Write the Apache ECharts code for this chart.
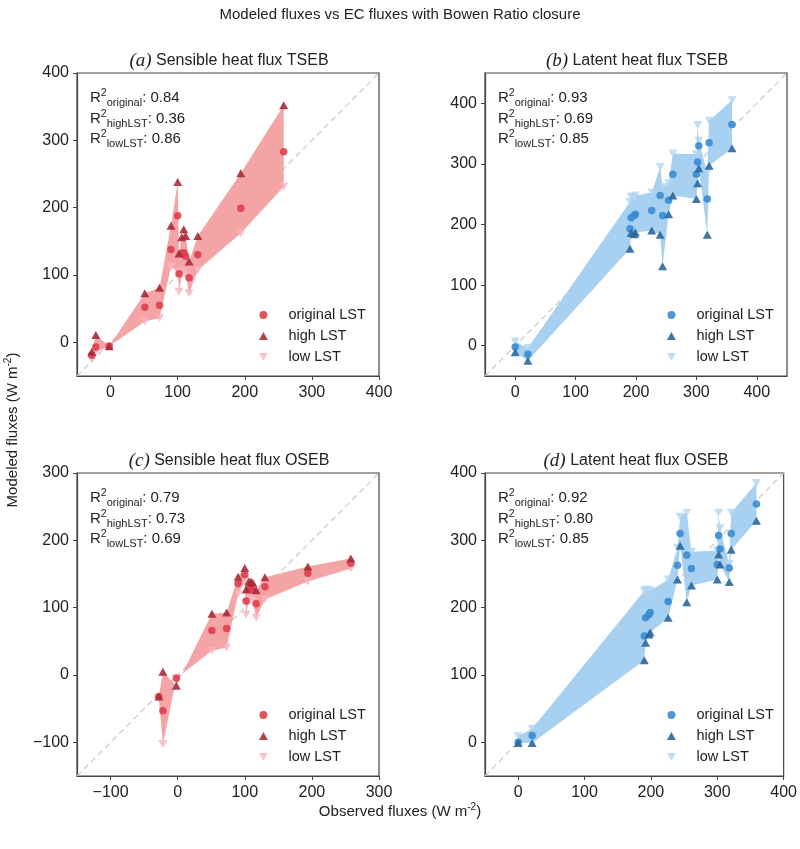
<!DOCTYPE html>
<html>
<head>
<meta charset="utf-8">
<script src="https://cdn.jsdelivr.net/npm/echarts@6/dist/echarts.min.js"></script>
<style>
  html, body { margin: 0; padding: 0; background: #fff; }
  #chart { width: 800px; height: 849px; }
</style>
</head>
<body>
<div id="chart"></div>
<script>
// observed fluxes (shared by each pair of panels)
var obsSensible = [-28, -22, -2, 51, 73, 90, 100, 102, 106, 109, 112, 117, 130, 194, 258];
var obsLatent = [0, 21, 190, 192, 197, 199, 226, 240, 244, 254, 261, 300, 302, 304, 318, 321, 359];

// (a) sensible heat flux TSEB
var aOriginal = [-19, -7, -6, 52, 55, 138, 188, 102, 132, 133, 128, 96, 130, 199, 283];
var aHigh = [-14, 11, -6, 73, 81, 173, 238, 132, 156, 168, 158, 120, 158, 251, 352];
var aLow = [-25, -15, -6, 31, 36, 112, 105, 75, 100, 105, 100, 73, 107, 162, 231];

// (b) latent heat flux TSEB
var bOriginal = [-2, -14, 193, 211, 215, 217, 223, 248, 215, 240, 283, 283, 303, 330, 242, 335, 365];
var bHigh = [-11, -25, 160, 186, 184, 187, 190, 183, 131, 217, 248, 242, 268, 293, 183, 297, 326];
var bLow = [7, -4, 237, 246, 244, 248, 253, 295, 262, 268, 317, 316, 364, 338, 285, 371, 405];

// (c) sensible heat flux OSEB
var cOriginal = [-32, -53, -5, 66, 69, 136, 149, 110, 128, 130, 126, 106, 131, 151, 166];
var cHigh = [-32, 5, -16, 91, 93, 146, 159, 127, 139, 139, 137, 126, 145, 161, 173];
var cLow = [-35, -103, -5, 36, 41, 120, 140, 90, 112, 115, 110, 85, 112, 139, 158];

// (d) latent heat flux OSEB
var dOriginal = [0, 10, 158, 185, 190, 193, 209, 263, 310, 278, 258, 264, 307, 287, 259, 310, 354];
var dHigh = [-1, -1, 122, 148, 160, 163, 185, 242, 292, 208, 233, 242, 279, 264, 238, 286, 329];
var dLow = [9, 20, 225, 227, 226, 225, 242, 289, 335, 341, 283, 285, 341, 318, 265, 341, 385];

var r2a = ['0.84', '0.36', '0.86'];
var r2b = ['0.93', '0.69', '0.85'];
var r2c = ['0.79', '0.73', '0.69'];
var r2d = ['0.92', '0.80', '0.85'];

var ticksA = [0, 100, 200, 300, 400];
var ticksB = [0, 100, 200, 300, 400];
var ticksC = [-100, 0, 100, 200, 300];
var ticksD = [0, 100, 200, 300, 400];

var red = { band: '#f5a4a6', orig: '#df3f4e', high: '#a82a3b', low: '#f5b5be' };
var blue = { band: '#a7d0f1', orig: '#3a8cd0', high: '#2a679d', low: '#b2d6f3' };

var panels = [
    { tag: 'a', name: 'Sensible heat flux TSEB', left: 77, top: 73, range: [-50, 400, -50, 400],
      xt: ticksA, yt: ticksA, x: obsSensible, orig: aOriginal, high: aHigh, low: aLow, col: red, r2: r2a, titleX: 224 },
    { tag: 'b', name: 'Latent heat flux TSEB', left: 485, top: 73, range: [-50, 450, -50, 450],
      xt: ticksB, yt: ticksB, x: obsLatent, orig: bOriginal, high: bHigh, low: bLow, col: blue, r2: r2b, titleX: 632 },
    { tag: 'c', name: 'Sensible heat flux OSEB', left: 77, top: 473, range: [-150, 300, -150, 300],
      xt: ticksC, yt: ticksC, x: obsSensible, orig: cOriginal, high: cHigh, low: cLow, col: red, r2: r2c, titleX: 224 },
    { tag: 'd', name: 'Latent heat flux OSEB', left: 485, top: 473, range: [-50, 400, -50, 400],
      xt: ticksD, yt: ticksD, x: obsLatent, orig: dOriginal, high: dHigh, low: dLow, col: blue, r2: r2d, titleX: 631 }
];

var FONT = 'Liberation Sans, Arial, sans-serif';
var lowSymbol = 'path://M0,0L10,0L5,9Z';
var highSymbol = 'path://M5,0L10,9L0,9Z';

function fmt(v) {
    return v < 0 ? '\u2212' + Math.abs(v) : String(v);
}

function pairs(xs, ys) {
    return xs.map(function (x, k) { return [x, ys[k]]; });
}

var grid = [], xAxis = [], yAxis = [], series = [], legend = [], title = [];

title.push({
    text: 'Modeled fluxes vs EC fluxes with Bowen Ratio closure',
    left: 'center', top: 2,
    textStyle: { fontFamily: FONT, fontSize: 15, fontWeight: 'normal', color: '#222' }
});

panels.forEach(function (p, i) {
    var r = p.range;
    grid.push({ left: p.left, top: p.top, width: 302, height: 303, show: true,
                borderColor: '#444', borderWidth: 1.2, backgroundColor: 'transparent' });

    var axisCommon = function (min, max, ticks, margin) {
        return {
            gridIndex: i, type: 'value', min: min, max: max,
            axisLine: { show: true, onZero: false, lineStyle: { color: '#444', width: 1.2 } },
            axisTick: { show: true, length: 4, customValues: ticks, lineStyle: { color: '#444' } },
            axisLabel: { customValues: ticks, fontFamily: FONT, fontSize: 16, color: '#222', margin: margin, formatter: fmt },
            splitLine: { show: false }
        };
    };
    xAxis.push(axisCommon(r[0], r[1], p.xt, 9));
    yAxis.push(axisCommon(r[2], r[3], p.yt, 8));

    // 1:1 line
    series.push({
        type: 'line', xAxisIndex: i, yAxisIndex: i, z: 1, silent: true,
        data: [[Math.max(r[0], r[2]), Math.max(r[0], r[2])], [Math.min(r[1], r[3]), Math.min(r[1], r[3])]],
        showSymbol: false,
        lineStyle: { color: '#c9ccd0', width: 1.3, type: [6, 4] }
    });

    // band between high and low LST
    var xs = p.x, hi = p.high, lo = p.low, bandCol = p.col.band;
    series.push({
        type: 'custom', xAxisIndex: i, yAxisIndex: i, z: 2, silent: true,
        data: [[xs[0], lo[0]]],
        renderItem: function (params, api) {
            var pts = [];
            for (var k = 0; k < xs.length; k++) pts.push(api.coord([xs[k], hi[k]]));
            for (var k2 = xs.length - 1; k2 >= 0; k2--) pts.push(api.coord([xs[k2], lo[k2]]));
            return { type: 'polygon', shape: { points: pts }, style: { fill: bandCol } };
        }
    });

    var names = [p.tag + ':original LST', p.tag + ':high LST', p.tag + ':low LST'];
    series.push({
        type: 'scatter', name: names[2], xAxisIndex: i, yAxisIndex: i, z: 3,
        symbol: lowSymbol, symbolSize: [9, 8], data: pairs(xs, lo),
        itemStyle: { color: p.col.low }
    });
    series.push({
        type: 'scatter', name: names[0], xAxisIndex: i, yAxisIndex: i, z: 4,
        symbol: 'circle', symbolSize: 7.5, data: pairs(xs, p.orig),
        itemStyle: { color: p.col.orig, opacity: 0.9 }
    });
    series.push({
        type: 'scatter', name: names[1], xAxisIndex: i, yAxisIndex: i, z: 5,
        symbol: highSymbol, symbolSize: [9, 8], data: pairs(xs, hi),
        itemStyle: { color: p.col.high, opacity: 0.9 }
    });

    legend.push({
        orient: 'vertical', left: p.left + 177, top: p.top + 227,
        itemWidth: 40, itemHeight: 8, itemGap: 1, selectedMode: false,
        data: names,
        formatter: function (n) { return n.split(':')[1]; },
        textStyle: { fontFamily: FONT, fontSize: 14.5, color: '#222', lineHeight: 20 }
    });

    // panel title
    title.push({
        text: '{it|(' + p.tag + ')} ' + p.name,
        left: p.titleX, top: p.top - 27, textAlign: 'center',
        textStyle: {
            fontFamily: FONT, fontSize: 16, fontWeight: 'normal', color: '#222',
            rich: { it: { fontFamily: 'Liberation Serif, DejaVu Serif, serif', fontStyle: 'italic', fontSize: 19, color: '#222' } }
        }
    });

    // R^2 annotations
    var labels = ['original', 'highLST', 'lowLST'];
    var txt = labels.map(function (l, k) {
        return '{r|R}{sup|2}{sub|' + l + '}{r|: ' + p.r2[k] + '}';
    }).join('\n');
    title.push({
        text: txt, left: p.left + 8, top: p.top + 10,
        textStyle: {
            fontFamily: FONT, fontSize: 15, fontWeight: 'normal', color: '#222', lineHeight: 20.5,
            rich: {
                r: { fontFamily: FONT, fontSize: 15, color: '#222', lineHeight: 20.5 },
                sup: { fontFamily: FONT, fontSize: 10.5, color: '#222', verticalAlign: 'top', lineHeight: 14 },
                sub: { fontFamily: FONT, fontSize: 11, color: '#222', verticalAlign: 'bottom', lineHeight: 11 }
            }
        }
    });
});

var chart = echarts.init(document.getElementById('chart'), null, { renderer: 'canvas' });
chart.setOption({
    backgroundColor: '#fff',
    animation: false,
    title: title,
    grid: grid,
    xAxis: xAxis,
    yAxis: yAxis,
    legend: legend,
    series: series,
    graphic: [
        {
            type: 'text', x: 13, y: 430, rotation: Math.PI / 2,
            style: {
                text: '{t|Modeled fluxes (W m}{s|-2}{t|)}',
                align: 'center', verticalAlign: 'middle', fill: '#222',
                rich: {
                    t: { fontFamily: FONT, fontSize: 15, fill: '#222', lineHeight: 20 },
                    s: { fontFamily: FONT, fontSize: 10, fill: '#222', verticalAlign: 'top', lineHeight: 14 }
                }
            }
        },
        {
            type: 'text', x: 400, y: 812,
            style: {
                text: '{t|Observed fluxes (W m}{s|-2}{t|)}',
                align: 'center', verticalAlign: 'middle', fill: '#222',
                rich: {
                    t: { fontFamily: FONT, fontSize: 15, fill: '#222', lineHeight: 20 },
                    s: { fontFamily: FONT, fontSize: 10, fill: '#222', verticalAlign: 'top', lineHeight: 14 }
                }
            }
        }
    ]
});
</script>
</body>
</html>
